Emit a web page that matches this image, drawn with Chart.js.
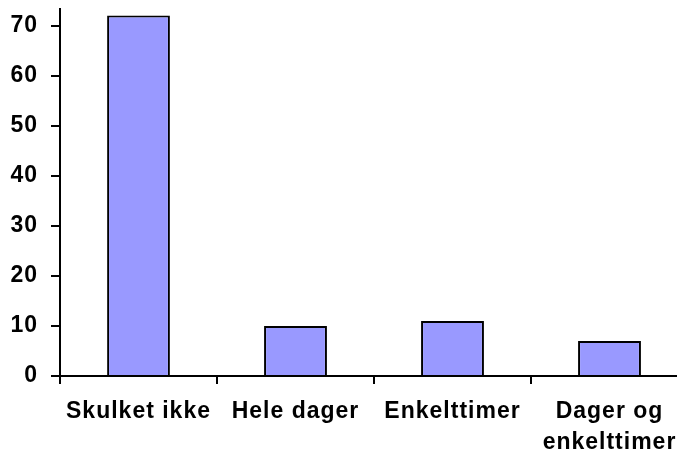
<!DOCTYPE html>
<html>
<head>
<meta charset="utf-8">
<script src="https://cdn.jsdelivr.net/npm/chart.js@4/dist/chart.umd.min.js"></script>
<style>
  html, body { margin: 0; padding: 0; background: #fff; overflow: hidden; }
  #wrap { width: 690px; height: 455px; }
</style>
</head>
<body>
<div id="wrap"><canvas id="chart" width="690" height="455"></canvas></div>
<script>
// data
const categories = ['Skulket ikke', 'Hele dager', 'Enkelttimer', ['Dager og', 'enkelttimer']];
const values = [72, 10, 11, 7];
const yTicks = [0, 10, 20, 30, 40, 50, 60, 70];

const labelFont = { family: 'Liberation Sans, Arial, sans-serif', size: 23, weight: 'bold', lineHeight: 1.35 };

// canvas letterSpacing gets reset when chart resizes the canvas, so set it again
const spacingPlugin = {
    id: 'spacing',
    beforeLayout(chart) { chart.ctx.letterSpacing = '1px'; },
    beforeDraw(chart) { chart.ctx.letterSpacing = '1px'; }
};

new Chart(document.getElementById('chart'), {
    type: 'bar',
    data: {
        labels: categories,
        datasets: [{
            data: values,
            backgroundColor: '#9999ff',
            borderColor: '#000',
            borderWidth: 2,
            barPercentage: 0.4,
            categoryPercentage: 1.0
        }]
    },
    options: {
        responsive: false,
        animation: false,
        layout: { padding: { top: 9, right: 2, left: 0, bottom: 0 } },
        plugins: { legend: { display: false }, tooltip: { enabled: false } },
        scales: {
            x: {
                offset: true,
                grid: { offset: true, drawOnChartArea: false, drawTicks: true, tickLength: 8, color: '#000', lineWidth: 2 },
                border: { display: true, color: '#000', width: 2 },
                ticks: { color: '#000', font: labelFont, padding: 12, maxRotation: 0, autoSkip: false },
                afterFit(scale) { scale.height = 79; scale.paddingLeft = 0; scale.paddingRight = 0; }
            },
            y: {
                min: 0,
                max: 73.3,
                afterBuildTicks(scale) { scale.ticks = yTicks.map(v => ({ value: v })); },
                grid: { drawOnChartArea: false, drawTicks: true, tickLength: 9, color: '#000', lineWidth: 2 },
                border: { display: true, color: '#000', width: 2 },
                ticks: { color: '#000', font: labelFont, padding: 13 },
                afterFit(scale) { scale.width = 60; scale.paddingTop = 0; scale.paddingBottom = 0; }
            }
        }
    },
    plugins: [spacingPlugin]
});
</script>
</body>
</html>
